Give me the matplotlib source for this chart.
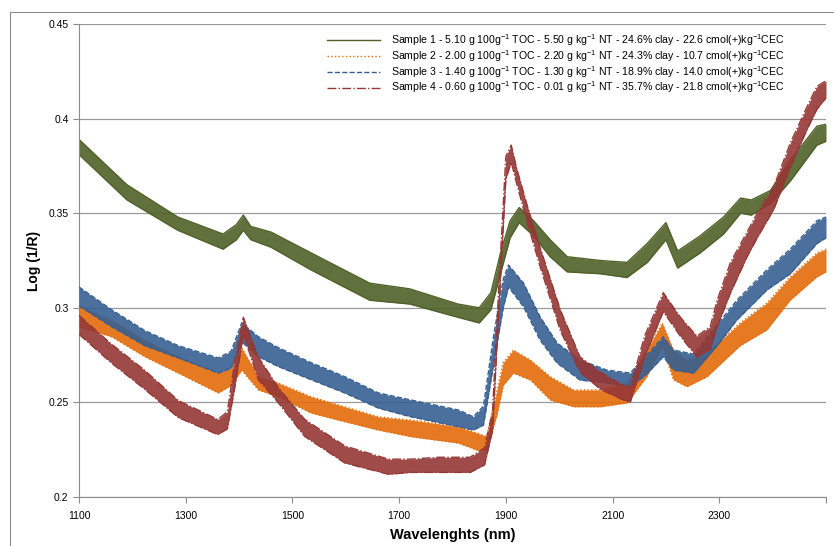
import matplotlib
matplotlib.use('Agg')
import matplotlib.pyplot as plt
from matplotlib.lines import Line2D

plt.rcParams['font.family'] = ['Liberation Sans', 'DejaVu Sans']
plt.rcParams['mathtext.fontset'] = 'custom'
plt.rcParams['mathtext.rm'] = 'Liberation Sans'
plt.rcParams['mathtext.it'] = 'Liberation Sans'
plt.rcParams['mathtext.bf'] = 'Liberation Sans:bold'

# band of replicate spectra for each sample: lower / upper edge
s1_wl = [1100, 1190, 1285, 1370, 1395, 1408, 1422, 1460, 1535, 1645, 1720, 1810, 1850, 1872,
         1890, 1908, 1925, 1952, 1983, 2015, 2077, 2127, 2165, 2200, 2222, 2264, 2308, 2340,
         2360, 2396, 2433, 2483, 2500]
s1_lo = [0.381, 0.357, 0.341, 0.331, 0.336, 0.341, 0.336, 0.332, 0.320, 0.304, 0.302, 0.295,
         0.292, 0.299, 0.318, 0.337, 0.345, 0.338, 0.327, 0.319, 0.318, 0.316, 0.324, 0.336,
         0.321, 0.329, 0.339, 0.350, 0.349, 0.355, 0.367, 0.386, 0.388]
s1_hi = [0.389, 0.365, 0.348, 0.339, 0.344, 0.349, 0.343, 0.340, 0.329, 0.313, 0.310, 0.302,
         0.300, 0.308, 0.329, 0.346, 0.353, 0.346, 0.336, 0.327, 0.325, 0.324, 0.334, 0.345,
         0.330, 0.338, 0.348, 0.358, 0.357, 0.362, 0.378, 0.396, 0.397]

s2_wl = [1100, 1161, 1223, 1286, 1361, 1385, 1405, 1436, 1473, 1535, 1598, 1661, 1722, 1811,
         1846, 1864, 1883, 1895, 1914, 1946, 1983, 2027, 2077, 2127, 2164, 2193, 2214, 2239,
         2277, 2339, 2389, 2433, 2483, 2500]
s2_lo = [0.290, 0.2847, 0.2742, 0.2655, 0.255, 0.259, 0.267, 0.2566, 0.253, 0.2444, 0.2398,
         0.2354, 0.2319, 0.2285, 0.2248, 0.2245, 0.243, 0.259, 0.2655, 0.2618, 0.2513, 0.2477,
         0.2477, 0.2497, 0.2636, 0.2794, 0.262, 0.2583, 0.2636, 0.2800, 0.2883, 0.3041, 0.3164,
         0.319]
s2_hi = [0.301, 0.2936, 0.283, 0.2742, 0.2655, 0.268, 0.2788, 0.2636, 0.2603, 0.253, 0.2477,
         0.2424, 0.2407, 0.2372, 0.2338, 0.232, 0.256, 0.271, 0.2777, 0.2724, 0.2636, 0.2566,
         0.2566, 0.2603, 0.2777, 0.292, 0.2777, 0.2724, 0.2761, 0.2920, 0.3025, 0.3164, 0.329,
         0.331]

s3_wl = [1100, 1161, 1223, 1286, 1361, 1385, 1405, 1436, 1473, 1535, 1598, 1661, 1722, 1811,
         1839, 1858, 1877, 1895, 1905, 1933, 1964, 1996, 2039, 2089, 2133, 2164, 2195, 2214,
         2252, 2296, 2333, 2389, 2433, 2483, 2500]
s3_lo = [0.301, 0.290, 0.280, 0.2735, 0.2655, 0.268, 0.282, 0.2742, 0.269, 0.262, 0.255,
         0.247, 0.2424, 0.2372, 0.2354, 0.238, 0.270, 0.300, 0.311, 0.3006, 0.283, 0.2708,
         0.2618, 0.2603, 0.2583, 0.265, 0.2742, 0.2671, 0.2655, 0.280, 0.2936, 0.3094, 0.318,
         0.334, 0.337]
s3_hi = [0.311, 0.299, 0.288, 0.280, 0.2735, 0.277, 0.292, 0.2847, 0.279, 0.271, 0.2636,
         0.255, 0.2513, 0.246, 0.2424, 0.248, 0.285, 0.315, 0.3226, 0.3131, 0.2953, 0.2814,
         0.2724, 0.2671, 0.2655, 0.275, 0.2847, 0.2777, 0.2755, 0.291, 0.304, 0.320, 0.331,
         0.346, 0.348]

s4_wl = [1100, 1160, 1223, 1286, 1360, 1378, 1392, 1408, 1436, 1473, 1523, 1598, 1680, 1722,
         1773, 1833, 1860, 1875, 1888, 1900, 1910, 1920, 1939, 1964, 2002, 2039, 2077, 2114,
         2133, 2160, 2195, 2227, 2258, 2283, 2296, 2321, 2352, 2371, 2402, 2433, 2464, 2483,
         2500]
s4_lo = [0.286, 0.271, 0.257, 0.242, 0.233, 0.236, 0.258, 0.286, 0.262, 0.250, 0.232, 0.218,
         0.212, 0.213, 0.213, 0.213, 0.217, 0.235, 0.305, 0.368, 0.377, 0.366, 0.346, 0.322,
         0.288, 0.266, 0.257, 0.252, 0.250, 0.274, 0.298, 0.285, 0.274, 0.278, 0.290, 0.308,
         0.327, 0.337, 0.352, 0.374, 0.394, 0.405, 0.411]
s4_hi = [0.296, 0.281, 0.267, 0.251, 0.241, 0.245, 0.272, 0.295, 0.274, 0.258, 0.241, 0.227,
         0.220, 0.220, 0.221, 0.221, 0.226, 0.245, 0.318, 0.380, 0.386, 0.374, 0.355, 0.332,
         0.299, 0.274, 0.266, 0.260, 0.258, 0.285, 0.308, 0.295, 0.285, 0.290, 0.304, 0.324,
         0.340, 0.350, 0.364, 0.387, 0.406, 0.417, 0.420]

labels = [
    'Sample 1 - 5.10 g 100g$^{-1}$ TOC - 5.50 g kg$^{-1}$ NT - 24.6% clay - 22.6 cmol(+)kg$^{-1}$CEC',
    'Sample 2 - 2.00 g 100g$^{-1}$ TOC - 2.20 g kg$^{-1}$ NT - 24.3% clay - 10.7 cmol(+)kg$^{-1}$CEC',
    'Sample 3 - 1.40 g 100g$^{-1}$ TOC - 1.30 g kg$^{-1}$ NT - 18.9% clay - 14.0 cmol(+)kg$^{-1}$CEC',
    'Sample 4 - 0.60 g 100g$^{-1}$ TOC - 0.01 g kg$^{-1}$ NT - 35.7% clay - 21.8 cmol(+)kg$^{-1}$CEC',
]
colors = ['#4F6228', '#E46C0A', '#376092', '#953735']
styles = ['-', ':', '--', '-.']

bands = [(s1_wl, s1_lo, s1_hi), (s2_wl, s2_lo, s2_hi), (s3_wl, s3_lo, s3_hi), (s4_wl, s4_lo, s4_hi)]

fig = plt.figure(figsize=(8.34, 5.46), dpi=100)
ax = fig.add_axes([79 / 834, 1 - 497 / 546, (826 - 79) / 834, (497 - 24) / 546])

# chart area border
fig.add_artist(Line2D([10 / 834, 1], [1 - 12 / 546, 1 - 12 / 546], color='#8c8c8c', lw=0.8))
fig.add_artist(Line2D([10 / 834, 10 / 834], [0, 1 - 12 / 546], color='#8c8c8c', lw=0.8))

order = [0, 2, 1, 3]
for i in order:
    wl, lo, hi = bands[i]
    ax.fill_between(wl, lo, hi, color=colors[i], alpha=0.9, lw=0, zorder=2 + i)
    ax.plot(wl, lo, color=colors[i], ls=styles[i], lw=1.0, zorder=2 + i, solid_joinstyle='round')
    ax.plot(wl, hi, color=colors[i], ls=styles[i], lw=1.0, zorder=2 + i, solid_joinstyle='round')

handles = [Line2D([], [], color=colors[i], ls=styles[i], lw=1.0) for i in range(4)]
fig.legend(handles, labels, loc='upper left', bbox_to_anchor=(322 / 834, 1 - 27 / 546),
           frameon=False, fontsize=7.6, handlelength=5.0, handletextpad=1.0,
           labelspacing=0.0, borderpad=0)

ax.set_xlim(1100, 2500)
ax.set_ylim(0.2, 0.45)
ax.set_xticks([1100, 1300, 1500, 1700, 1900, 2100, 2300, 2500])
ax.set_xticklabels(['1100', '1300', '1500', '1700', '1900', '2100', '2300', ''])
ax.set_yticks([0.2, 0.25, 0.3, 0.35, 0.4, 0.45])
ax.set_yticklabels(['0.2', '0.25', '0.3', '0.35', '0.4', '0.45'])
ax.grid(axis='y', color='#9a9a9a', lw=0.9)
ax.set_axisbelow(True)
for s in ['top', 'right']:
    ax.spines[s].set_visible(False)
for s in ['left', 'bottom']:
    ax.spines[s].set_color('#8c8c8c')
ax.tick_params(colors='#8c8c8c', labelcolor='black', labelsize=7.5, length=4, width=0.8)
ax.tick_params(axis='x', pad=6)
ax.set_xlabel('Wavelenghts (nm)', fontsize=10.5, fontweight='bold', labelpad=5)
ax.set_ylabel('Log (1/R)', fontsize=10, fontweight='bold', labelpad=5)

fig.savefig('out.png', dpi=100)
